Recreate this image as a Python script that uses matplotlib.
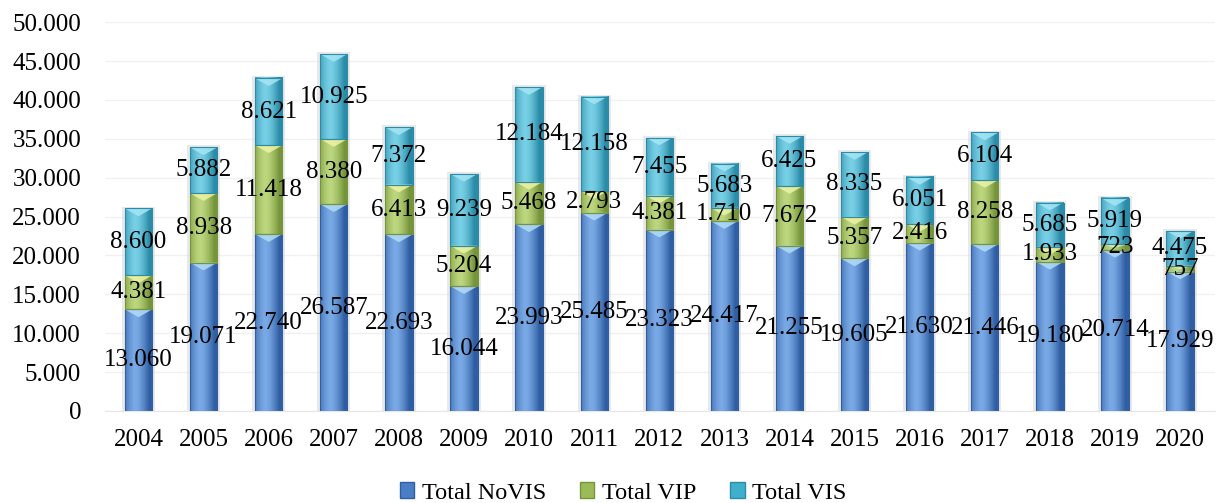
import numpy as np
import matplotlib
matplotlib.use("Agg")
import matplotlib.pyplot as plt
from matplotlib.colors import to_rgb
from matplotlib.patches import Patch, Polygon
from matplotlib.ticker import FuncFormatter

# data
years = ["2004", "2005", "2006", "2007", "2008", "2009", "2010", "2011", "2012",
         "2013", "2014", "2015", "2016", "2017", "2018", "2019", "2020"]
novis = [13060, 19071, 22740, 26587, 22693, 16044, 23993, 25485, 23323,
         24417, 21255, 19605, 21630, 21446, 19180, 20714, 17929]
vip = [4381, 8938, 11418, 8380, 6413, 5204, 5468, 2793, 4381,
       1710, 7672, 5357, 2416, 8258, 1933, 723, 757]
vis = [8600, 5882, 8621, 10925, 7372, 9239, 12184, 12158, 7455,
       5683, 6425, 8335, 6051, 6104, 5685, 5919, 4475]

# name, values, base, edge, highlight, chevron
series = [("Total NoVIS", novis, "#4a7ec4", "#2f5ea3", "#7aaae6", "#b4dcf6"),
          ("Total VIP", vip, "#9bbb59", "#76953a", "#bdd77f", "#eef3a6"),
          ("Total VIS", vis, "#3fb0cc", "#2a8ca8", "#78d0e6", "#a6e6f4")]

plt.rcParams["font.family"] = ["Liberation Serif", "DejaVu Serif"]
plt.rcParams["font.size"] = 18

fig = plt.figure(figsize=(12.17, 5.03), dpi=100)
ax = fig.add_axes([0.086, 0.183, 0.912, 0.773])

x = np.arange(len(years))
width = 0.42


def cyl(c_edge, c_mid, n=64):
    t = np.linspace(-1, 1, n) + 0.25
    w = np.clip(1 - np.abs(t) ** 1.5, 0, 1)
    e = np.array(to_rgb(c_edge))
    m = np.array(to_rgb(c_mid))
    return (e[None, :] * (1 - w[:, None]) + m[None, :] * w[:, None])[None, :, :]


bottom = np.zeros(len(years))
totals = np.array(novis) + np.array(vip) + np.array(vis)

# soft shadow behind each stack
ax.bar(x, totals + 250, width=width + 0.09, color="#d0d0d0", alpha=0.45, zorder=1)

chev = 1000  # depth of the light chevron at the top of each segment
for name, vals, base, edge, mid, light in series:
    vals = np.array(vals)
    grad = cyl(edge, mid)
    for i in range(len(years)):
        b, t = bottom[i], bottom[i] + vals[i]
        ax.imshow(grad, extent=[x[i] - width / 2, x[i] + width / 2, b, t],
                  aspect="auto", zorder=2, interpolation="bilinear")
        d = min(chev, vals[i] * 0.6)
        ax.add_patch(Polygon([[x[i] - width / 2, t], [x[i] + width / 2, t],
                              [x[i], t - d]], closed=True, facecolor=light,
                             edgecolor="none", alpha=0.85, zorder=3))
    ax.bar(x, vals, width=width, bottom=bottom, facecolor="none",
           edgecolor=edge, linewidth=0.8, zorder=4)
    for i in range(len(years)):
        ax.text(x[i], bottom[i] + vals[i] / 2, f"{vals[i]:,}".replace(",", "."),
                ha="center", va="center", fontsize=18, zorder=5)
    bottom = bottom + vals

ax.set_xlim(-0.52, len(years) - 0.47)
ax.set_ylim(0, 50000)
ax.set_yticks(np.arange(0, 50001, 5000))
ax.yaxis.set_major_formatter(FuncFormatter(lambda v, p: f"{int(v):,}".replace(",", ".")))
ax.set_xticks(x)
ax.set_xticklabels(years)
ax.tick_params(length=0)
ax.tick_params(axis="x", pad=13)
ax.tick_params(axis="y", pad=17)
ax.grid(axis="y", color="#f0f0f0", linewidth=1, zorder=0)
ax.set_axisbelow(True)
for s in ["top", "right", "left"]:
    ax.spines[s].set_visible(False)
ax.spines["bottom"].set_color("#e6e6e6")

handles = [Patch(facecolor=s[2], edgecolor=s[3]) for s in series]
fig.legend(handles, [s[0] for s in series], loc="lower center", ncol=3,
           frameon=False, bbox_to_anchor=(0.512, -0.045), handlelength=0.6,
           handleheight=0.6, columnspacing=1.4, handletextpad=0.3, fontsize=17.5)

fig.savefig("out.png", dpi=100)
